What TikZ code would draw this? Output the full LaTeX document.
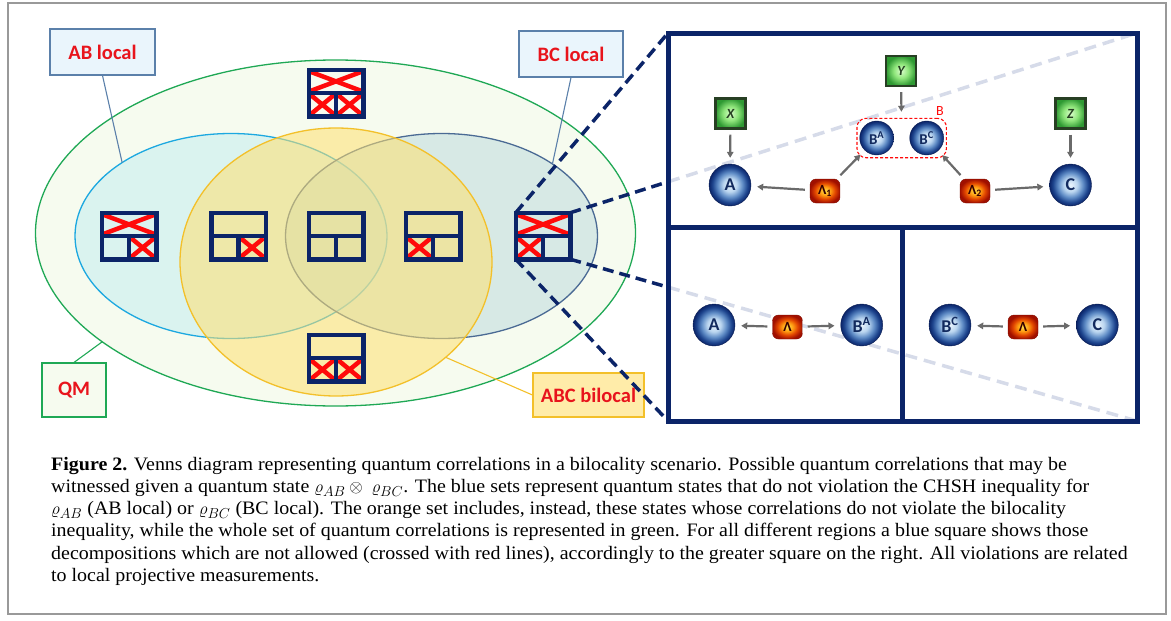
\documentclass[tikz,border=0pt]{standalone}
\usepackage{amssymb,amsmath}
\usepackage{fontspec}
\usepackage{tikz}
\usetikzlibrary{calc,shapes.geometric,arrows.meta,fit}
\newfontfamily\calib{Carlito}
\newfontfamily\capfont[FakeStretch=1.05]{Liberation Serif}
\definecolor{navy}{HTML}{0B2468}
\definecolor{xred}{HTML}{FF0A0A}
\definecolor{labred}{HTML}{E8141C}
\definecolor{qmgreen}{HTML}{1FA855}
\definecolor{qmfill}{HTML}{F6FBEF}
\definecolor{abline}{HTML}{1CA8E0}
\definecolor{abfill}{HTML}{C8EFF0}
\definecolor{bcline}{HTML}{4A6A94}
\definecolor{bcfill}{HTML}{B9D9DC}
\definecolor{bilgold}{HTML}{F3C02A}
\definecolor{bilfill}{HTML}{FFE070}
\definecolor{boxline}{HTML}{5B80AA}
\definecolor{boxfill}{HTML}{EAF5FC}
\definecolor{arrgray}{HTML}{6A6A6A}
\definecolor{ghost}{HTML}{D6DBE9}
\definecolor{orbtext}{HTML}{122A5E}
\definecolor{orbcore}{HTML}{EAF4FD}
\definecolor{orbin}{HTML}{BBD6F0}
\definecolor{orbmid}{HTML}{5E8BC5}
\definecolor{orbdeep}{HTML}{1D448D}
\definecolor{lamcore}{HTML}{FFE24A}
\definecolor{lamin}{HTML}{FF9C12}
\definecolor{lammid}{HTML}{E04400}
\definecolor{lamout}{HTML}{A01000}
\definecolor{grcore}{HTML}{DAFFCB}
\definecolor{grin}{HTML}{90E67C}
\definecolor{grout}{HTML}{2F9A33}
\definecolor{grline}{HTML}{273F23}
\pgfdeclareradialshading{orbshade}{\pgfpoint{0bp}{0bp}}{color(0bp)=(orbcore);
  color(8bp)=(orbin); color(15bp)=(orbmid); color(21bp)=(orbdeep); color(25bp)=(navy);
  color(50bp)=(navy)}
\pgfdeclareradialshading{lamshade}{\pgfpoint{0bp}{0bp}}{color(0bp)=(lamcore);
  color(9bp)=(lamin); color(17bp)=(lammid); color(25bp)=(lamout); color(50bp)=(lamout)}
\pgfdeclareradialshading{grshade}{\pgfpoint{0bp}{0bp}}{color(0bp)=(grcore);
  color(12bp)=(grin); color(25bp)=(grout); color(50bp)=(grout)}

\begin{document}
\begin{tikzpicture}[x=1pt, y=-1pt,
  setlabel/.style={draw=boxline, fill=boxfill, line width=1.1pt, inner sep=0pt,
    minimum height=46pt, text=labred, font=\calib\bfseries\fontsize{20.5}{20.5}\selectfont},
  cellbox/.style={draw=navy, line width=4.5pt, inner sep=0pt, outer sep=0pt,
    minimum width=54.5pt, minimum height=46.5pt},
  cross/.style={draw=xred, line width=4.5pt},
  orb/.style={circle, draw=navy!80!black, shading=orbshade, inner sep=0pt,
    minimum size=#1, text=orbtext, font=\calib\bfseries\fontsize{18}{18}\selectfont},
  orb/.default=42pt,
  source/.style={rectangle, rounded corners=6pt, draw=lamout!80!black, shading=lamshade,
    minimum width=30pt, minimum height=24pt, inner sep=0pt, text=black!80!red,
    font=\calib\bfseries\fontsize{14}{14}\selectfont},
  setting/.style={rectangle, draw=grline, line width=2.4pt, shading=grshade,
    minimum size=30pt, inner sep=0pt, text=grline,
    font=\calib\bfseries\itshape\fontsize{14}{14}\selectfont},
  feed/.style={draw=arrgray, line width=2.2pt, -{Triangle[length=6pt,width=6.5pt]},
    shorten <=5pt, shorten >=6pt},
  zoomline/.style={draw=navy, line width=3.5pt, dash pattern=on 11pt off 6pt},
  ghostline/.style={draw=ghost, line width=3.5pt, dash pattern=on 12pt off 7pt}]

  \useasboundingbox (0,0) rectangle (1171,621);
  \node[draw=black!40, line width=1.4pt, minimum width=1158pt, minimum height=611pt,
    inner sep=0pt] (frame) at (587,308.5) {};

  % sets
  \node[ellipse, draw=qmgreen, line width=1.3pt, fill=qmfill, inner sep=0pt, outer sep=0pt,
    minimum width=600pt, minimum height=346pt] (qm) at (335.5,233) {};
  \node[ellipse, draw=abline, line width=1.3pt, fill=abfill, fill opacity=0.6, inner sep=0pt,
    outer sep=0pt, minimum width=312pt, minimum height=205pt] (abset) at (231,236) {};
  \node[ellipse, draw=bcline, line width=1.3pt, fill=bcfill, fill opacity=0.5, inner sep=0pt,
    outer sep=0pt, minimum width=312pt, minimum height=205pt] (bcset) at (441.5,236) {};
  \node[ellipse, draw=bilgold, line width=1.3pt, fill=bilfill, fill opacity=0.55, inner sep=0pt,
    outer sep=0pt, minimum width=312pt, minimum height=268pt] (bilset) at (336,262) {};

  % labels
  \node[setlabel, minimum width=105pt] (ablab) at (102.5,52) {AB local};
  \node[setlabel, minimum width=104pt] (bclab) at (571,54) {BC local};
  \node[setlabel, draw=qmgreen, fill=qmfill, minimum width=64pt, minimum height=54pt] (qmlab) at (74,390) {QM};
  \node[setlabel, draw=bilgold, fill=bilfill!60, minimum width=111pt, minimum height=44pt] (billab) at (588.5,395) {ABC bilocal};
  \draw[boxline, line width=1.1pt] (ablab.south) -- (abset.146.7);
  \draw[boxline, line width=1.1pt] (bclab.south) -- (bcset.33.2);
  \draw[qmgreen, line width=1.1pt] (qmlab.north) -- (qm.205.9);
  \draw[bilgold, line width=1.1pt] (billab.west) -- (bilset.319.4);

  % decomposition squares
  \foreach \nm/\cx/\cy/\t/\l/\r in {qmonly/336/93/1/1/1, abonly/129/236/1/0/1,
      abbil/238.5/236/0/0/1, core/336/236/0/0/0, bcbil/433/236/0/1/0,
      bconly/543/236/1/1/0, bilonly/336/358/0/1/1}{
    \ifnum\t=1 \draw[cross] (\cx-25,\cy-21) -- (\cx+25,\cy-2.25) (\cx-25,\cy-2.25) -- (\cx+25,\cy-21); \fi
    \ifnum\l=1 \draw[cross] (\cx-25,\cy+2.25) -- (\cx-2.25,\cy+21) (\cx-25,\cy+21) -- (\cx-2.25,\cy+2.25); \fi
    \ifnum\r=1 \draw[cross] (\cx+2.25,\cy+2.25) -- (\cx+25,\cy+21) (\cx+2.25,\cy+21) -- (\cx+25,\cy+2.25); \fi
    \node[cellbox] (\nm) at (\cx,\cy) {};
    \draw[navy, line width=4.5pt] (\nm.west) -- (\nm.east) (\nm.center) -- (\nm.south);
  }

  % zoomed square
  \node[minimum width=469pt, minimum height=388pt, inner sep=0pt, outer sep=0pt] (zoom) at (902.5,227) {};
  \coordinate (necut) at (intersection of bconly.north east--zoom.north east and zoom.north west--zoom.south west);
  \coordinate (secut) at (intersection of bconly.south east--zoom.south east and zoom.north west--zoom.south west);
  \draw[ghostline] (necut) -- (zoom.north east);
  \draw[ghostline] (secut) -- (zoom.south east);
  \draw[zoomline] (bconly.north west) -- (zoom.north west);
  \draw[zoomline] (bconly.south west) -- (zoom.south west);
  \draw[zoomline] (bconly.north east) -- (necut);
  \draw[zoomline] (bconly.south east) -- (secut);
  \draw[navy, line width=5pt] (zoom.north west) rectangle (zoom.south east);
  \draw[navy, line width=5pt] (zoom.west) -- (zoom.east) (zoom.center) -- (zoom.south);

  % bilocal scenario
  \node[setting] (x) at (730.5,113.5) {X};
  \node[setting] (y) at (901,71) {Y};
  \node[setting] (z) at (1070.5,113.5) {Z};
  \node[orb] (a) at (730,185) {A};
  \node[orb] (c) at (1070.5,185) {C};
  \node[orb=34pt, font=\calib\bfseries\fontsize{15}{15}\selectfont] (ba) at (876.7,138) {B\textsuperscript{A}};
  \node[orb=34pt, font=\calib\bfseries\fontsize{15}{15}\selectfont] (bc) at (926.7,138) {B\textsuperscript{C}};
  \node[fit=(ba)(bc), draw=xred, line width=1.1pt, dash pattern=on 3pt off 2pt,
    rounded corners=9pt, inner sep=2.5pt] (bgrp) {};
  \node[text=xred, font=\calib\fontsize{14}{14}\selectfont] (blab) at (940,111) {B};
  \node[source] (lam1) at (825,191) {Λ\textsubscript{1}};
  \node[source] (lam2) at (975,191) {Λ\textsubscript{2}};
  \draw[feed] (x) -- (a);
  \draw[feed] (y) -- (bgrp);
  \draw[feed] (z) -- (c);
  \draw[feed] (lam1) -- (a);
  \draw[feed] (lam1) -- (ba);
  \draw[feed] (lam2) -- (bc);
  \draw[feed] (lam2) -- (c);

  % single sources
  \node[orb] (a2) at (714,325) {A};
  \node[source] (lam3) at (787.5,327) {Λ};
  \node[orb] (ba2) at (861.7,325) {B\textsuperscript{A}};
  \node[orb] (bc2) at (950,325) {B\textsuperscript{C}};
  \node[source] (lam4) at (1023,327) {Λ};
  \node[orb] (c2) at (1097.3,325) {C};
  \draw[feed] (lam3) -- (a2);
  \draw[feed] (lam3) -- (ba2);
  \draw[feed] (lam4) -- (bc2);
  \draw[feed] (lam4) -- (c2);

  % caption
  \node[anchor=north west, align=left, inner sep=0pt,
    font=\capfont\fontsize{19}{22.2}\selectfont] (caption) at (51,457)
    {\textbf{Figure 2.} Venns diagram representing quantum correlations in a bilocality scenario. Possible quantum correlations that may be\\
     witnessed given a quantum state $\varrho_{AB}\otimes\;\varrho_{BC}$. The blue sets represent quantum states that do not violation the CHSH inequality for\\
     $\varrho_{AB}$ (AB local) or $\varrho_{BC}$ (BC local). The orange set includes, instead, these states whose correlations do not violate the bilocality\\
     inequality, while the whole set of quantum correlations is represented in green. For all different regions a blue square shows those\\
     decompositions which are not allowed (crossed with red lines), accordingly to the greater square on the right. All violations are related\\
     to local projective measurements.};
\end{tikzpicture}
\end{document}
